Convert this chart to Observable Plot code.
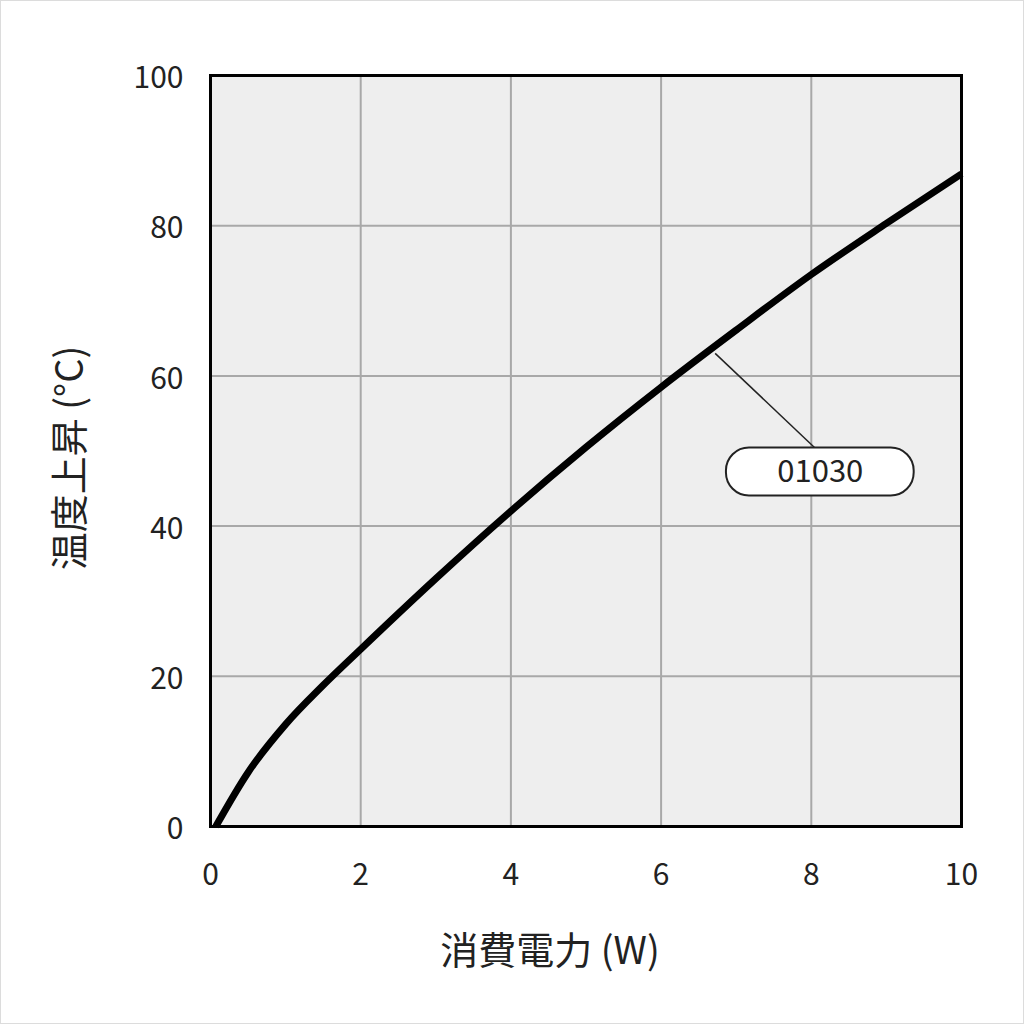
<!DOCTYPE html>
<html><head><meta charset="utf-8">
<script src="https://cdn.jsdelivr.net/npm/d3@7"></script>
<script src="https://cdn.jsdelivr.net/npm/@observablehq/plot@0.6"></script>
<style>
html,body{margin:0;padding:0;background:#fff;}
#chart{width:1022px;height:1022px;border:1px solid #dcdcdc;overflow:hidden;}
</style></head>
<body><div id="chart"></div>
<script>
const powerW = [0.07, 0.5, 1, 1.5, 2, 3, 4, 5, 6, 7, 8, 9, 10];
const tempRise = [0, 7.2, 13.6, 18.8, 23.6, 33.0, 42.0, 50.5, 58.5, 66.1, 73.5, 80.3, 86.9];
const xTicks = [0, 2, 4, 6, 8, 10];
const yTicks = [0, 20, 40, 60, 80, 100];
const seriesName = "01030";
const leaderFrom = [6.72, 63];
const leaderTo = [8.06, 50.3];
const labelBox = {x1: 6.87, x2: 9.37, y1: 44, y2: 50.4};
const xTitle = "消費電力 (W)";
const yTitle = "温度上昇 (°C)";

const data = powerW.map((x, i) => ({x, y: tempRise[i]}));
const font = "'Noto Sans CJK JP', 'Noto Sans', sans-serif";

const chart = Plot.plot({
  width: 1022, height: 1022,
  marginLeft: 209, marginRight: 62, marginTop: 74, marginBottom: 197,
  style: {fontFamily: font, fontSize: "30px", color: "#222", background: "#fff"},
  x: {domain: [0, 10], ticks: xTicks},
  y: {domain: [0, 100], ticks: yTicks},
  marks: [
    Plot.frame({fill: "#eeeeee"}),
    Plot.gridX(xTicks, {stroke: "#a8a8a8", strokeOpacity: 1, strokeWidth: 2}),
    Plot.gridY(yTicks, {stroke: "#a8a8a8", strokeOpacity: 1, strokeWidth: 2}),
    Plot.axisX(xTicks, {tickSize: 0, tickPadding: 37, fontSize: 30, label: null}),
    Plot.axisY(yTicks, {tickSize: 0, tickPadding: 27, fontSize: 30, dy: 3, label: null}),
    Plot.line(data, {x: "x", y: "y", stroke: "black", strokeWidth: 7, curve: "monotone-x", strokeLinecap: "butt"}),
    Plot.link([{x1: leaderFrom[0], y1: leaderFrom[1], x2: leaderTo[0], y2: leaderTo[1]}], {x1: "x1", y1: "y1", x2: "x2", y2: "y2", stroke: "#222", strokeWidth: 1.5}),
    Plot.rect([labelBox], {x1: "x1", x2: "x2", y1: "y1", y2: "y2", fill: "white", stroke: "#222", strokeWidth: 2, rx: 23}),
    Plot.text([seriesName], {x: (labelBox.x1 + labelBox.x2) / 2, y: (labelBox.y1 + labelBox.y2) / 2, text: d => d, fontSize: 31, fill: "#222"}),
    Plot.frame({stroke: "black", strokeWidth: 3}),
    Plot.text([xTitle], {frameAnchor: "bottom", text: d => d, textAnchor: "middle", lineAnchor: "middle", dx: -36, dy: 125, fontSize: 38, fill: "#222"}),
    Plot.text([yTitle], {frameAnchor: "left", text: d => d, textAnchor: "middle", lineAnchor: "middle", dx: -140, dy: 7, rotate: -90, fontSize: 38, fill: "#222"})
  ]
});
document.getElementById("chart").appendChild(chart);
</script></body></html>
